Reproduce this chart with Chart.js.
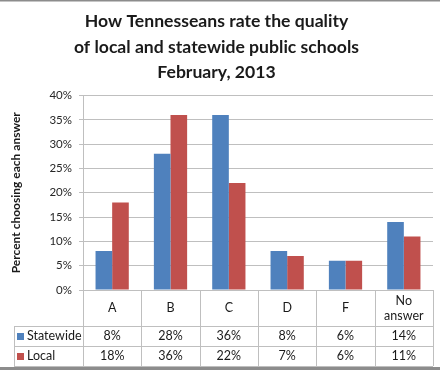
<!DOCTYPE html>
<html>
<head>
<meta charset="utf-8">
<script src="https://cdn.jsdelivr.net/npm/chart.js@4"></script>
<style>
  body { margin: 0; background: #fff; }
  canvas { display: block; }
</style>
</head>
<body>
<canvas id="chart" width="440" height="370"></canvas>
<script>
// данные
const categories = ['A', 'B', 'C', 'D', 'F', ['No', 'answer']];
const statewide = [8, 28, 36, 8, 6, 14];
const local = [18, 36, 22, 7, 6, 11];
const seriesNames = ['Statewide', 'Local'];
const titleLines = [
  'How Tennesseans rate the quality',
  'of local and statewide public schools',
  'February, 2013',
];
const yTicks = [0, 5, 10, 15, 20, 25, 30, 35, 40];

const FONT = 'Lato';
const BLUE = '#4F81BD';
const RED = '#C0504D';
const LINE = '#bfbfbf';

// таблица данных под графиком (как в Excel)
const dataTable = {
  id: 'dataTable',
  beforeDraw(chart) {
    const ctx = chart.ctx;
    ctx.save();
    ctx.fillStyle = '#fff';
    ctx.fillRect(0, 0, chart.width, chart.height);
    ctx.restore();
  },
  afterDraw(chart) {
    const ctx = chart.ctx;
    const area = chart.chartArea;
    const xs = chart.scales.x;
    const n = categories.length;
    const colW = (area.right - area.left) / n;
    const tableLeft = 14;
    const catBottom = area.bottom + 36;
    const rowH = 20;
    const rows = [statewide, local];
    const colors = [BLUE, RED];

    ctx.save();
    ctx.strokeStyle = LINE;
    ctx.lineWidth = 1;
    ctx.beginPath();
    // горизонтальные линии
    for (let r = 0; r <= rows.length; r++) {
      const y = Math.round(catBottom + r * rowH) + 0.5;
      ctx.moveTo(tableLeft, y);
      ctx.lineTo(area.right, y);
    }
    // вертикальные линии
    ctx.moveTo(tableLeft + 0.5, catBottom);
    ctx.lineTo(tableLeft + 0.5, catBottom + rows.length * rowH);
    for (let i = 0; i <= n; i++) {
      const x = Math.round(area.left + i * colW) + 0.5;
      ctx.moveTo(x, area.bottom);
      ctx.lineTo(x, catBottom + rows.length * rowH);
    }
    ctx.stroke();

    ctx.fillStyle = '#1a1a1a';
    ctx.font = '12.5px ' + FONT;
    ctx.textAlign = 'center';
    ctx.textBaseline = 'middle';
    categories.forEach((label, i) => {
      const cx = xs.getPixelForValue(i);
      const lines = Array.isArray(label) ? label : [label];
      const midY = (area.bottom + catBottom) / 2;
      lines.forEach((t, k) => {
        ctx.fillText(t, cx, midY + (k - (lines.length - 1) / 2) * 15);
      });
    });

    rows.forEach((vals, r) => {
      const cy = catBottom + r * rowH + rowH / 2;
      vals.forEach((v, i) => {
        ctx.fillText(v + '%', xs.getPixelForValue(i), cy);
      });
      ctx.fillStyle = colors[r];
      ctx.fillRect(17, Math.round(cy - 3.5), 7, 7);
      ctx.fillStyle = '#1a1a1a';
      ctx.textAlign = 'left';
      ctx.fillText(seriesNames[r], 27, cy);
      ctx.textAlign = 'center';
    });

    // рамка картинки
    ctx.fillStyle = '#8c8c8c';
    ctx.fillRect(0, 0, chart.width, 1.5);
    ctx.fillRect(0, chart.height - 3, chart.width, 3);
    ctx.restore();
  },
};

new Chart(document.getElementById('chart'), {
  type: 'bar',
  data: {
    labels: categories,
    datasets: [
      { label: seriesNames[0], data: statewide, backgroundColor: BLUE },
      { label: seriesNames[1], data: local, backgroundColor: RED },
    ],
  },
  options: {
    responsive: false,
    animation: false,
    layout: { padding: { left: 0, right: 7, bottom: 4, top: 0 } },
    datasets: { bar: { categoryPercentage: 0.57, barPercentage: 1.0 } },
    plugins: {
      legend: { display: false },
      tooltip: { enabled: false },
      title: {
        display: true,
        text: titleLines,
        color: '#1a1a1a',
        font: { family: FONT, size: 17.6, weight: 'bold', lineHeight: '25.5px' },
        padding: { top: 9, bottom: 10 },
      },
    },
    scales: {
      x: {
        ticks: { display: false },
        grid: { display: false },
        border: { display: false },
        afterFit(scale) { scale.height = 76; },
      },
      y: {
        min: 0,
        max: 40,
        afterBuildTicks(scale) { scale.ticks = yTicks.map((v) => ({ value: v })); },
        ticks: {
          color: '#262626',
          font: { family: FONT, size: 11.5 },
          padding: 7,
          callback: (v) => v + '%',
        },
        grid: { color: LINE, tickLength: 4 },
        border: { color: LINE },
        title: {
          display: true,
          text: 'Percent choosing each answer',
          color: '#1a1a1a',
          font: { family: FONT, size: 12, weight: 'bold' },
          padding: { top: 9, bottom: 0 },
        },
        afterFit(scale) { scale.width = 83; },
      },
    },
  },
  plugins: [dataTable],
});
</script>
</body>
</html>
